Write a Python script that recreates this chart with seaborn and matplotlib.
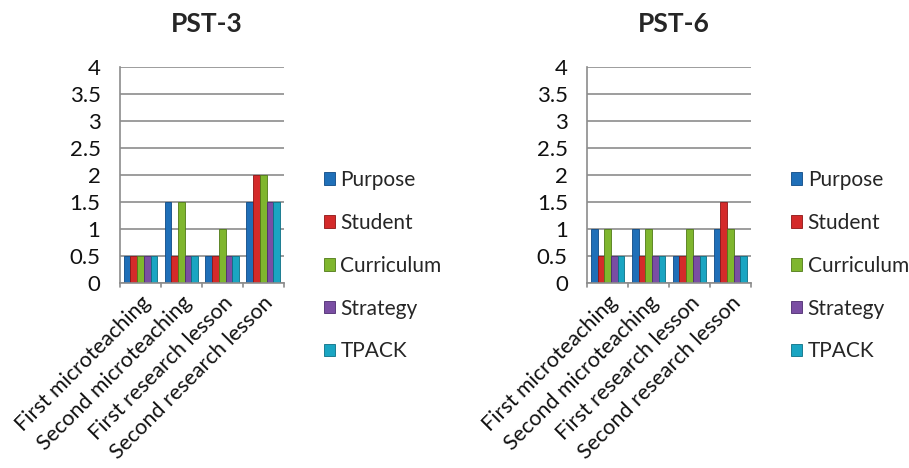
import matplotlib
matplotlib.use("Agg")
import matplotlib.pyplot as plt
import seaborn as sns
import pandas as pd
from matplotlib.patches import Patch

sns.set_theme(style="white")
plt.rcParams["font.family"] = ["Lato", "DejaVu Sans"]

categories = ["First microteaching", "Second microteaching",
              "First research lesson", "Second research lesson"]
series = ["Purpose", "Student", "Curriculum", "Strategy", "TPACK"]

pst3_purpose = [0.5, 1.5, 0.5, 1.5]
pst3_student = [0.5, 0.5, 0.5, 2.0]
pst3_curriculum = [0.5, 1.5, 1.0, 2.0]
pst3_strategy = [0.5, 0.5, 0.5, 1.5]
pst3_tpack = [0.5, 0.5, 0.5, 1.5]

pst6_purpose = [1.0, 1.0, 0.5, 1.0]
pst6_student = [0.5, 0.5, 0.5, 1.5]
pst6_curriculum = [1.0, 1.0, 1.0, 1.0]
pst6_strategy = [0.5, 0.5, 0.5, 0.5]
pst6_tpack = [0.5, 0.5, 0.5, 0.5]

y_ticks = [0, 0.5, 1, 1.5, 2, 2.5, 3, 3.5, 4]
y_tick_labels = ["0", "0.5", "1", "1.5", "2", "2.5", "3", "3.5", "4"]

palette = ["#1f6fb8", "#d42a2a", "#7fb62e", "#7a4ea3", "#1aa5c2"]
edge_colors = ["#0d4a85", "#8e1414", "#4f7a17", "#4c2c70", "#0c6f84"]


def long_frame(values):
    rows = []
    for name, vals in zip(series, values):
        for cat, v in zip(categories, vals):
            rows.append({"Lesson": cat, "Component": name, "Score": v})
    return pd.DataFrame(rows)


pst3 = long_frame([pst3_purpose, pst3_student, pst3_curriculum,
                   pst3_strategy, pst3_tpack])
pst6 = long_frame([pst6_purpose, pst6_student, pst6_curriculum,
                   pst6_strategy, pst6_tpack])

fig = plt.figure(figsize=(9.09, 4.68), dpi=100)
ax_left = fig.add_axes([0.132, 0.395, 0.180, 0.462])
ax_right = fig.add_axes([0.646, 0.395, 0.180, 0.462])

grid_color = "#8c8c8c"

for ax, df, title in [(ax_left, pst3, "PST-3"), (ax_right, pst6, "PST-6")]:
    sns.barplot(data=df, x="Lesson", y="Score", hue="Component",
                order=categories, hue_order=series, palette=palette,
                width=0.82, gap=0.0, saturation=1, ax=ax, legend=False)
    # darker outline on each bar for a bit of depth
    for i, cont in enumerate(ax.containers):
        for bar in cont:
            bar.set_edgecolor(edge_colors[i])
            bar.set_linewidth(0.6)
    ax.set_xlim(-0.5, 3.5)
    ax.set_ylim(0, 4)
    ax.set_yticks(y_ticks)
    ax.set_yticklabels(y_tick_labels, fontsize=16, color="#111111")
    ax.yaxis.grid(True, color=grid_color, linewidth=1.2)
    ax.set_axisbelow(True)
    ax.set_xlabel("")
    ax.set_ylabel("")
    ax.set_xticks(range(len(categories)))
    ax.set_xticklabels(categories, rotation=45, ha="right",
                       rotation_mode="anchor", fontsize=15.5, color="#111111")
    ax.tick_params(axis="x", length=0, pad=7)
    ax.tick_params(axis="y", length=0, pad=14)
    # category boundary ticks along the floor
    for b in [-0.5, 0.5, 1.5, 2.5, 3.5]:
        ax.plot([b, b], [0, -0.08], color=grid_color, lw=1.2,
                clip_on=False, transform=ax.transData)
    for side in ["top", "right"]:
        ax.spines[side].set_visible(False)
    for side in ["left", "bottom"]:
        ax.spines[side].set_color(grid_color)
        ax.spines[side].set_linewidth(1.2)
    ax.set_title(title, fontsize=19, fontweight="bold", pad=25, x=0.53)

handles = [Patch(facecolor=c, edgecolor=e, linewidth=0.6)
           for c, e in zip(palette, edge_colors)]
for x0 in [0.347, 0.861]:
    fig.legend(handles, series, loc="upper left",
               bbox_to_anchor=(x0, 0.655), frameon=False, fontsize=15,
               handlelength=0.55, handleheight=0.55, handletextpad=0.25,
               labelspacing=1.1, borderaxespad=0)

fig.savefig("out.png", dpi=100, facecolor="white")
